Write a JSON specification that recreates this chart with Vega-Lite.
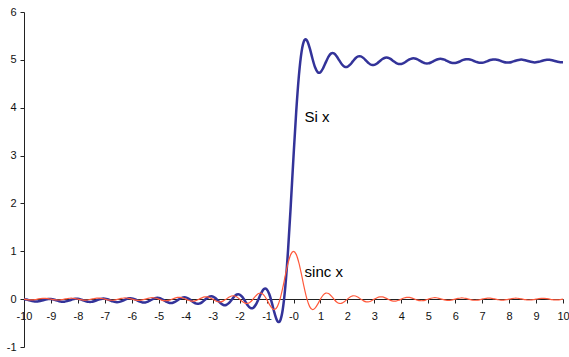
{
  "$schema": "https://vega.github.io/schema/vega-lite/v6.json",
  "width": 539,
  "height": 335,
  "autosize": {"type": "none"},
  "padding": {"left": 24, "top": 12, "right": 6, "bottom": 10},
  "background": "white",
  "config": {
    "view": {"stroke": null},
    "font": "Liberation Sans",
    "axis": {"grid": false, "domainColor": "#222", "tickColor": "#222", "labelColor": "#111", "labelFont": "Liberation Sans", "labelFontSize": 11, "tickSize": 4, "domainWidth": 1, "tickWidth": 1, "title": null, "labelOverlap": false, "labelFlush": false}
  },
  "datasets": {
    "curves": [
      {"x": -10.0, "sinc": 0, "si": 0},
      {"x": -9.9, "sinc": -0.0094, "si": -0.0094},
      {"x": -9.8, "sinc": -0.0154, "si": -0.0249},
      {"x": -9.7, "sinc": -0.0156, "si": -0.0405},
      {"x": -9.6, "sinc": -0.0097, "si": -0.0502},
      {"x": -9.5, "sinc": 0, "si": -0.0502},
      {"x": -9.4, "sinc": 0.0100, "si": -0.0403},
      {"x": -9.3, "sinc": 0.0163, "si": -0.0240},
      {"x": -9.2, "sinc": 0.0165, "si": -0.0076},
      {"x": -9.1, "sinc": 0.0103, "si": 0.0027},
      {"x": -9.0, "sinc": 0, "si": 0.0027},
      {"x": -8.9, "sinc": -0.0105, "si": -0.0078},
      {"x": -8.8, "sinc": -0.0172, "si": -0.0250},
      {"x": -8.7, "sinc": -0.0174, "si": -0.0424},
      {"x": -8.6, "sinc": -0.0109, "si": -0.0533},
      {"x": -8.5, "sinc": 0, "si": -0.0533},
      {"x": -8.4, "sinc": 0.0111, "si": -0.0421},
      {"x": -8.3, "sinc": 0.0182, "si": -0.0239},
      {"x": -8.2, "sinc": 0.0185, "si": -0.0054},
      {"x": -8.1, "sinc": 0.0115, "si": 0.0061},
      {"x": -8.0, "sinc": 0, "si": 0.0061},
      {"x": -7.9, "sinc": -0.0118, "si": -0.0057},
      {"x": -7.8, "sinc": -0.0194, "si": -0.0251},
      {"x": -7.7, "sinc": -0.0197, "si": -0.0448},
      {"x": -7.6, "sinc": -0.0123, "si": -0.0571},
      {"x": -7.5, "sinc": 0, "si": -0.0571},
      {"x": -7.4, "sinc": 0.0126, "si": -0.0445},
      {"x": -7.3, "sinc": 0.0207, "si": -0.0237},
      {"x": -7.2, "sinc": 0.0210, "si": -0.0027},
      {"x": -7.1, "sinc": 0.0132, "si": 0.0105},
      {"x": -7.0, "sinc": 0, "si": 0.0105},
      {"x": -6.9, "sinc": -0.0136, "si": -0.0031},
      {"x": -6.8, "sinc": -0.0223, "si": -0.0253},
      {"x": -6.7, "sinc": -0.0226, "si": -0.0479},
      {"x": -6.6, "sinc": -0.0142, "si": -0.0621},
      {"x": -6.5, "sinc": 0, "si": -0.0621},
      {"x": -6.4, "sinc": 0.0146, "si": -0.0475},
      {"x": -6.3, "sinc": 0.0240, "si": -0.0235},
      {"x": -6.2, "sinc": 0.0244, "si": 0.0009},
      {"x": -6.1, "sinc": 0.0153, "si": 0.0163},
      {"x": -6.0, "sinc": 0, "si": 0.0163},
      {"x": -5.9, "sinc": -0.0159, "si": 0.0004},
      {"x": -5.8, "sinc": -0.0261, "si": -0.0257},
      {"x": -5.7, "sinc": -0.0266, "si": -0.0522},
      {"x": -5.6, "sinc": -0.0167, "si": -0.0689},
      {"x": -5.5, "sinc": 0, "si": -0.0689},
      {"x": -5.4, "sinc": 0.0173, "si": -0.0516},
      {"x": -5.3, "sinc": 0.0286, "si": -0.0230},
      {"x": -5.2, "sinc": 0.0291, "si": 0.0061},
      {"x": -5.1, "sinc": 0.0183, "si": 0.0244},
      {"x": -5.0, "sinc": 0, "si": 0.0244},
      {"x": -4.9, "sinc": -0.0191, "si": 0.0053},
      {"x": -4.8, "sinc": -0.0315, "si": -0.0262},
      {"x": -4.7, "sinc": -0.0322, "si": -0.0584},
      {"x": -4.6, "sinc": -0.0203, "si": -0.0788},
      {"x": -4.5, "sinc": 0, "si": -0.0788},
      {"x": -4.4, "sinc": 0.0213, "si": -0.0575},
      {"x": -4.3, "sinc": 0.0352, "si": -0.0223},
      {"x": -4.2, "sinc": 0.0360, "si": 0.0137},
      {"x": -4.1, "sinc": 0.0228, "si": 0.0366},
      {"x": -4.0, "sinc": 0, "si": 0.0366},
      {"x": -3.9, "sinc": -0.0240, "si": 0.0126},
      {"x": -3.8, "sinc": -0.0398, "si": -0.0273},
      {"x": -3.7, "sinc": -0.0409, "si": -0.0682},
      {"x": -3.6, "sinc": -0.0260, "si": -0.0942},
      {"x": -3.5, "sinc": 0, "si": -0.0942},
      {"x": -3.4, "sinc": 0.0275, "si": -0.0666},
      {"x": -3.3, "sinc": 0.0459, "si": -0.0208},
      {"x": -3.2, "sinc": 0.0473, "si": 0.0265},
      {"x": -3.1, "sinc": 0.0302, "si": 0.0567},
      {"x": -3.0, "sinc": 0, "si": 0.0567},
      {"x": -2.9, "sinc": -0.0323, "si": 0.0244},
      {"x": -2.8, "sinc": -0.0541, "si": -0.0296},
      {"x": -2.7, "sinc": -0.0561, "si": -0.0857},
      {"x": -2.6, "sinc": -0.0360, "si": -0.1217},
      {"x": -2.5, "sinc": 0, "si": -0.1217},
      {"x": -2.4, "sinc": 0.0390, "si": -0.0827},
      {"x": -2.3, "sinc": 0.0658, "si": -0.0169},
      {"x": -2.2, "sinc": 0.0688, "si": 0.0519},
      {"x": -2.1, "sinc": 0.0445, "si": 0.0965},
      {"x": -2.0, "sinc": 0, "si": 0.0965},
      {"x": -1.9, "sinc": -0.0492, "si": 0.0472},
      {"x": -1.8, "sinc": -0.0841, "si": -0.0368},
      {"x": -1.7, "sinc": -0.0890, "si": -0.1259},
      {"x": -1.6, "sinc": -0.0585, "si": -0.1844},
      {"x": -1.5, "sinc": 0, "si": -0.1844},
      {"x": -1.4, "sinc": 0.0668, "si": -0.1175},
      {"x": -1.3, "sinc": 0.1164, "si": -0.0011},
      {"x": -1.2, "sinc": 0.1261, "si": 0.1250},
      {"x": -1.1, "sinc": 0.0850, "si": 0.2101},
      {"x": -1.0, "sinc": 0, "si": 0.2101},
      {"x": -0.9, "sinc": -0.1039, "si": 0.1061},
      {"x": -0.8, "sinc": -0.1892, "si": -0.0831},
      {"x": -0.7, "sinc": -0.2162, "si": -0.2993},
      {"x": -0.6, "sinc": -0.1559, "si": -0.4552},
      {"x": -0.5, "sinc": 0, "si": -0.4552},
      {"x": -0.4, "sinc": 0.2339, "si": -0.2213},
      {"x": -0.3, "sinc": 0.5046, "si": 0.2832},
      {"x": -0.2, "sinc": 0.7568, "si": 1.0400},
      {"x": -0.1, "sinc": 0.9355, "si": 1.9755},
      {"x": 0.0, "sinc": 1, "si": 2.9755},
      {"x": 0.1, "sinc": 0.9355, "si": 3.9110},
      {"x": 0.2, "sinc": 0.7568, "si": 4.6678},
      {"x": 0.3, "sinc": 0.5046, "si": 5.1724},
      {"x": 0.4, "sinc": 0.2339, "si": 5.4063},
      {"x": 0.5, "sinc": 0, "si": 5.4063},
      {"x": 0.6, "sinc": -0.1559, "si": 5.2503},
      {"x": 0.7, "sinc": -0.2162, "si": 5.0341},
      {"x": 0.8, "sinc": -0.1892, "si": 4.8449},
      {"x": 0.9, "sinc": -0.1039, "si": 4.7410},
      {"x": 1.0, "sinc": 0, "si": 4.7410},
      {"x": 1.1, "sinc": 0.0850, "si": 4.8260},
      {"x": 1.2, "sinc": 0.1261, "si": 4.9521},
      {"x": 1.3, "sinc": 0.1164, "si": 5.0686},
      {"x": 1.4, "sinc": 0.0668, "si": 5.1354},
      {"x": 1.5, "sinc": 0, "si": 5.1354},
      {"x": 1.6, "sinc": -0.0585, "si": 5.0769},
      {"x": 1.7, "sinc": -0.0890, "si": 4.9879},
      {"x": 1.8, "sinc": -0.0841, "si": 4.9038},
      {"x": 1.9, "sinc": -0.0492, "si": 4.8546},
      {"x": 2.0, "sinc": 0, "si": 4.8546},
      {"x": 2.1, "sinc": 0.0445, "si": 4.8991},
      {"x": 2.2, "sinc": 0.0688, "si": 4.9679},
      {"x": 2.3, "sinc": 0.0658, "si": 5.0337},
      {"x": 2.4, "sinc": 0.0390, "si": 5.0727},
      {"x": 2.5, "sinc": 0, "si": 5.0727},
      {"x": 2.6, "sinc": -0.0360, "si": 5.0367},
      {"x": 2.7, "sinc": -0.0561, "si": 4.9807},
      {"x": 2.8, "sinc": -0.0541, "si": 4.9266},
      {"x": 2.9, "sinc": -0.0323, "si": 4.8943},
      {"x": 3.0, "sinc": 0, "si": 4.8943},
      {"x": 3.1, "sinc": 0.0302, "si": 4.9245},
      {"x": 3.2, "sinc": 0.0473, "si": 4.9718},
      {"x": 3.3, "sinc": 0.0459, "si": 5.0177},
      {"x": 3.4, "sinc": 0.0275, "si": 5.0452},
      {"x": 3.5, "sinc": 0, "si": 5.0452},
      {"x": 3.6, "sinc": -0.0260, "si": 5.0192},
      {"x": 3.7, "sinc": -0.0409, "si": 4.9783},
      {"x": 3.8, "sinc": -0.0398, "si": 4.9385},
      {"x": 3.9, "sinc": -0.0240, "si": 4.9145},
      {"x": 4.0, "sinc": 0, "si": 4.9145},
      {"x": 4.1, "sinc": 0.0228, "si": 4.9373},
      {"x": 4.2, "sinc": 0.0360, "si": 4.9733},
      {"x": 4.3, "sinc": 0.0352, "si": 5.0085},
      {"x": 4.4, "sinc": 0.0213, "si": 5.0298},
      {"x": 4.5, "sinc": 0, "si": 5.0298},
      {"x": 4.6, "sinc": -0.0203, "si": 5.0095},
      {"x": 4.7, "sinc": -0.0322, "si": 4.9773},
      {"x": 4.8, "sinc": -0.0315, "si": 4.9457},
      {"x": 4.9, "sinc": -0.0191, "si": 4.9266},
      {"x": 5.0, "sinc": 0, "si": 4.9266},
      {"x": 5.1, "sinc": 0.0183, "si": 4.9450},
      {"x": 5.2, "sinc": 0.0291, "si": 4.9741},
      {"x": 5.3, "sinc": 0.0286, "si": 5.0026},
      {"x": 5.4, "sinc": 0.0173, "si": 5.0200},
      {"x": 5.5, "sinc": 0, "si": 5.0200},
      {"x": 5.6, "sinc": -0.0167, "si": 5.0033},
      {"x": 5.7, "sinc": -0.0266, "si": 4.9767},
      {"x": 5.8, "sinc": -0.0261, "si": 4.9506},
      {"x": 5.9, "sinc": -0.0159, "si": 4.9348},
      {"x": 6.0, "sinc": 0, "si": 4.9348},
      {"x": 6.1, "sinc": 0.0153, "si": 4.9501},
      {"x": 6.2, "sinc": 0.0244, "si": 4.9745},
      {"x": 6.3, "sinc": 0.0240, "si": 4.9985},
      {"x": 6.4, "sinc": 0.0146, "si": 5.0132},
      {"x": 6.5, "sinc": 0, "si": 5.0132},
      {"x": 6.6, "sinc": -0.0142, "si": 4.9990},
      {"x": 6.7, "sinc": -0.0226, "si": 4.9764},
      {"x": 6.8, "sinc": -0.0223, "si": 4.9541},
      {"x": 6.9, "sinc": -0.0136, "si": 4.9406},
      {"x": 7.0, "sinc": 0, "si": 4.9406},
      {"x": 7.1, "sinc": 0.0132, "si": 4.9537},
      {"x": 7.2, "sinc": 0.0210, "si": 4.9748},
      {"x": 7.3, "sinc": 0.0207, "si": 4.9955},
      {"x": 7.4, "sinc": 0.0126, "si": 5.0081},
      {"x": 7.5, "sinc": 0, "si": 5.0081},
      {"x": 7.6, "sinc": -0.0123, "si": 4.9958},
      {"x": 7.7, "sinc": -0.0197, "si": 4.9762},
      {"x": 7.8, "sinc": -0.0194, "si": 4.9568},
      {"x": 7.9, "sinc": -0.0118, "si": 4.9449},
      {"x": 8.0, "sinc": 0, "si": 4.9449},
      {"x": 8.1, "sinc": 0.0115, "si": 4.9565},
      {"x": 8.2, "sinc": 0.0185, "si": 4.9749},
      {"x": 8.3, "sinc": 0.0182, "si": 4.9932},
      {"x": 8.4, "sinc": 0.0111, "si": 5.0043},
      {"x": 8.5, "sinc": 0, "si": 5.0043},
      {"x": 8.6, "sinc": -0.0109, "si": 4.9934},
      {"x": 8.7, "sinc": -0.0174, "si": 4.9760},
      {"x": 8.8, "sinc": -0.0172, "si": 4.9588},
      {"x": 8.9, "sinc": -0.0105, "si": 4.9483},
      {"x": 9.0, "sinc": 0, "si": 4.9483},
      {"x": 9.1, "sinc": 0.0103, "si": 4.9586},
      {"x": 9.2, "sinc": 0.0165, "si": 4.9751},
      {"x": 9.3, "sinc": 0.0163, "si": 4.9913},
      {"x": 9.4, "sinc": 0.0100, "si": 5.0013},
      {"x": 9.5, "sinc": 0, "si": 5.0013},
      {"x": 9.6, "sinc": -0.0097, "si": 4.9915},
      {"x": 9.7, "sinc": -0.0156, "si": 4.9759},
      {"x": 9.8, "sinc": -0.0154, "si": 4.9605},
      {"x": 9.9, "sinc": -0.0094, "si": 4.9510},
      {"x": 10.0, "sinc": 0, "si": 4.9510}
    ],
    "labels": [
      {"x": 0.41, "y": 3.8, "text": "Si x"},
      {"x": 0.41, "y": 0.57, "text": "sinc x"}
    ]
  },
  "encoding": {
    "x": {"field": "x", "type": "quantitative", "scale": {"domain": [-10, 10], "nice": false, "zero": false},
      "axis": {"values": [-10,-9,-8,-7,-6,-5,-4,-3,-2,-1,0,1,2,3,4,5,6,7,8,9,10], "offset": -48, "labelPadding": 7, "labelExpr": "datum.value == 0 ? '-0' : '' + datum.value", "labelFlush": false, "labelOverlap": false}}
  },
  "layer": [
    {
      "data": {"name": "curves"},
      "mark": {"type": "line", "color": "#333399", "strokeWidth": 2.5, "interpolate": "cardinal"},
      "encoding": {
        "y": {"field": "si", "type": "quantitative", "scale": {"domain": [-1, 6], "nice": false, "zero": false},
          "axis": {"values": [-1,0,1,2,3,4,5,6], "labelPadding": 4, "labelExpr": "'' + datum.value", "labelFlush": false}}
      }
    },
    {
      "data": {"name": "curves"},
      "mark": {"type": "line", "color": "#FF5A3C", "strokeWidth": 1.2, "interpolate": "cardinal"},
      "encoding": {
        "y": {"field": "sinc", "type": "quantitative"}
      }
    },
    {
      "data": {"name": "labels"},
      "mark": {"type": "text", "align": "left", "baseline": "middle", "fontSize": 15, "font": "Liberation Sans", "color": "#000"},
      "encoding": {
        "y": {"field": "y", "type": "quantitative"},
        "text": {"field": "text"}
      }
    }
  ]
}
